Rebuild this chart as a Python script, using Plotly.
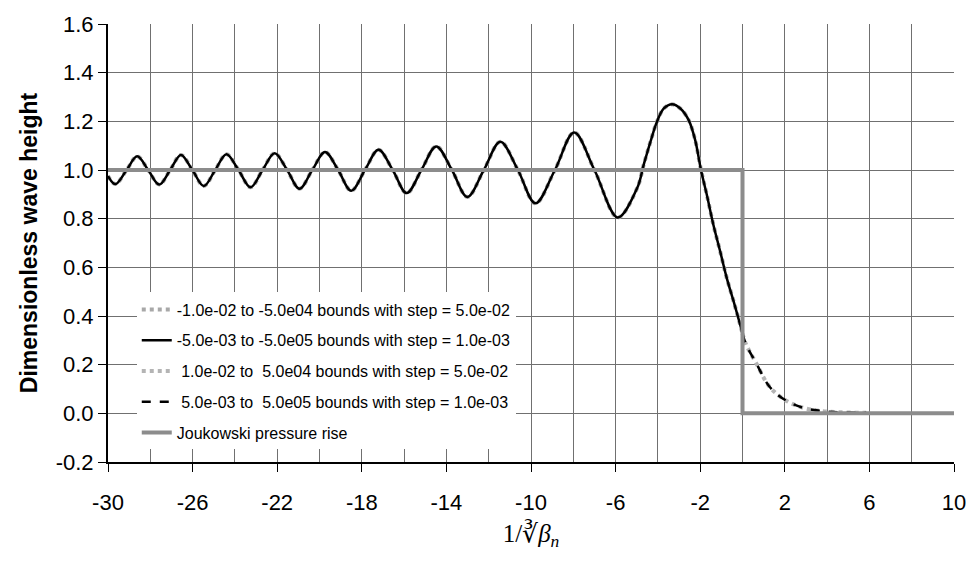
import plotly.graph_objects as go

# ---- data ----
x_neg = [-30.0, -29.65, -29.12, -28.62, -28.10, -27.58, -27.06, -26.55, -26.01, -25.47,
         -24.93, -24.40, -23.83, -23.26, -22.69, -22.12, -21.53, -20.95, -20.34, -19.74,
         -19.12, -18.50, -17.85, -17.21, -16.54, -15.88, -15.18, -14.48, -13.74, -13.01,
         -12.23, -11.45, -10.62, -9.79, -8.87, -7.96, -7.00, -5.90,
         -4.98, -4.67, -4.35, -4.04, -3.72, -3.33, -2.94, -2.55, -2.24, -1.96,
         -1.69, -1.38, -1.06, -0.75, -0.43, -0.12, 0.0]
y_neg = [0.975, 0.942, 1.0, 1.056, 1.0, 0.940, 1.0, 1.062, 1.0, 0.934,
         1.0, 1.065, 1.0, 0.929, 1.0, 1.069, 1.0, 0.923, 1.0, 1.074,
         1.0, 0.915, 1.0, 1.083, 1.0, 0.905, 1.0, 1.097, 1.0, 0.889,
         1.0, 1.116, 1.0, 0.863, 1.0, 1.154, 1.0, 0.805,
         0.926, 1.022, 1.117, 1.199, 1.253, 1.270, 1.253, 1.206, 1.124, 0.999,
         0.899, 0.776, 0.667, 0.558, 0.463, 0.367, 0.328]

x_pos = [0.0, 0.16, 0.66, 1.29, 2.05, 2.86, 3.80, 4.70, 5.85]
y_pos = [0.328, 0.285, 0.204, 0.108, 0.053, 0.023, 0.009, 0.004, 0.002]

x_jouk = [-30, 0, 0, 10]
y_jouk = [1.0, 1.0, 0.0, 0.0]

x_tickvals = [-30, -26, -22, -18, -14, -10, -6, -2, 2, 6, 10]
x_ticktext = ["-30", "-26", "-22", "-18", "-14", "-10", "-6", "-2", "2", "6", "10"]
y_tickvals = [-0.2, 0.0, 0.2, 0.4, 0.6, 0.8, 1.0, 1.2, 1.4, 1.6]
y_ticktext = ["-0.2", "0.0", "0.2", "0.4", "0.6", "0.8", "1.0", "1.2", "1.4", "1.6"]

names = [
    "-1.0e-02 to -5.0e04 bounds with step = 5.0e-02",
    "-5.0e-03 to -5.0e05 bounds with step = 1.0e-03",
    " 1.0e-02 to  5.0e04 bounds with step = 5.0e-02",
    " 5.0e-03 to  5.0e05 bounds with step = 1.0e-03",
    "Joukowski pressure rise",
]

FONT = "Arial, 'Liberation Sans', sans-serif"

fig = go.Figure()
fig.add_trace(go.Scatter(x=x_neg, y=y_neg, mode="lines", name=names[0], legendgroup="a",
                         line=dict(color="#a8a8a8", width=4, dash="dot", shape="spline")))
fig.add_trace(go.Scatter(x=x_neg, y=y_neg, mode="lines", name=names[1], legendgroup="b",
                         line=dict(color="#000000", width=2.5, shape="spline")))
fig.add_trace(go.Scatter(x=x_pos, y=y_pos, mode="lines", name=names[2], legendgroup="c",
                         line=dict(color="#b4b4b4", width=4, dash="dot", shape="spline")))
fig.add_trace(go.Scatter(x=x_pos, y=y_pos, mode="lines", name=names[3], legendgroup="d",
                         line=dict(color="#000000", width=2.5, dash="dash", shape="spline")))
fig.add_trace(go.Scatter(x=x_jouk, y=y_jouk, mode="lines", name=names[4], legendgroup="e",
                         line=dict(color="#8c8c8c", width=4)))

grid = "#707070"
fig.update_layout(
    width=978, height=561,
    margin=dict(l=108, r=20, t=22, b=99),
    plot_bgcolor="white", paper_bgcolor="white",
    font=dict(family=FONT, color="black", size=16),
    legend=dict(x=0.034, y=0.387, xanchor="left", yanchor="top",
                bgcolor="white", borderwidth=0, font=dict(size=16, family=FONT),
                tracegroupgap=7, traceorder="grouped"),
    showlegend=True,
)
fig.update_xaxes(
    range=[-30, 10], tickmode="array", tickvals=x_tickvals, ticktext=x_ticktext,
    showgrid=True, gridcolor=grid, gridwidth=1,
    minor=dict(dtick=2, tick0=-30, showgrid=True, gridcolor=grid, gridwidth=1, ticks=""),
    zeroline=False, showline=True, linecolor="black", linewidth=2,
    ticks="outside", ticklen=8, tickcolor="black", tickwidth=1,
    tickfont=dict(size=22, family=FONT), ticklabelstandoff=12,
    title=dict(text="1/∛<i>β</i><sub><i>n</i></sub>",
               font=dict(family="'Liberation Serif', 'Times New Roman', serif", size=25),
               standoff=10),
)
fig.update_yaxes(
    range=[-0.2, 1.6], tickmode="array", tickvals=y_tickvals, ticktext=y_ticktext,
    showgrid=True, gridcolor=grid, gridwidth=1,
    zeroline=False, showline=True, linecolor="black", linewidth=2,
    ticks="outside", ticklen=8, tickcolor="black", tickwidth=1,
    tickfont=dict(size=22, family=FONT),
    title=dict(text="<b>Dimensionless wave height</b>", font=dict(size=23, family=FONT), standoff=12),
)

fig.write_html("out.html")
